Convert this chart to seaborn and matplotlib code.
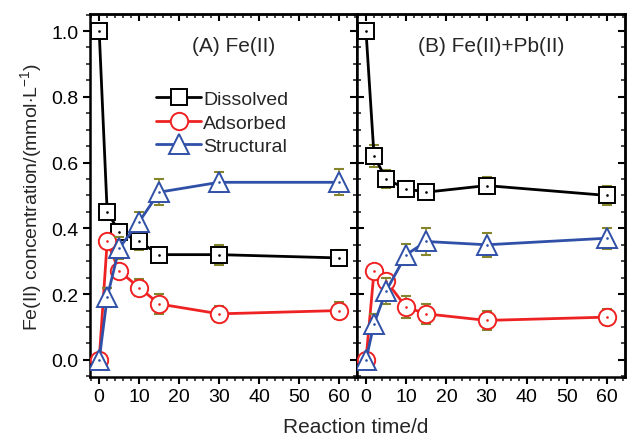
import numpy as np
import pandas as pd
import matplotlib
matplotlib.use("Agg")
import matplotlib.pyplot as plt
import seaborn as sns
from matplotlib.ticker import MultipleLocator, FormatStrFormatter

sns.set_theme(style="ticks")
plt.rcParams['font.family'] = ['Liberation Sans', 'DejaVu Sans']
plt.rcParams['mathtext.fontset'] = 'custom'
plt.rcParams['mathtext.rm'] = 'Liberation Sans'

time = [0, 2, 5, 10, 15, 30, 60]
series_names = ["Dissolved", "Adsorbed", "Structural"]

# Panel A: Fe(II)
a_dissolved = [1.00, 0.45, 0.39, 0.36, 0.32, 0.32, 0.31]
a_dissolved_err = [0.0, 0.025, 0.02, 0.025, 0.02, 0.03, 0.023]
a_adsorbed = [0.00, 0.36, 0.27, 0.22, 0.17, 0.14, 0.15]
a_adsorbed_err = [0.0, 0.0, 0.02, 0.025, 0.03, 0.024, 0.027]
a_structural = [0.00, 0.19, 0.34, 0.42, 0.51, 0.54, 0.54]
a_structural_err = [0.0, 0.03, 0.033, 0.03, 0.04, 0.03, 0.04]

# Panel B: Fe(II)+Pb(II)
b_dissolved = [1.00, 0.62, 0.55, 0.52, 0.51, 0.53, 0.50]
b_dissolved_err = [0.0, 0.034, 0.027, 0.024, 0.02, 0.027, 0.03]
b_adsorbed = [0.00, 0.27, 0.24, 0.16, 0.14, 0.12, 0.13]
b_adsorbed_err = [0.0, 0.01, 0.02, 0.034, 0.03, 0.03, 0.025]
b_structural = [0.00, 0.11, 0.21, 0.32, 0.36, 0.35, 0.37]
b_structural_err = [0.0, 0.028, 0.04, 0.031, 0.04, 0.037, 0.032]

panel_titles = ["(A) Fe(II)", "(B) Fe(II)+Pb(II)"]

colors = {"Dissolved": "#000000", "Adsorbed": "#EE2222", "Structural": "#3050A8"}
markers = {"Dissolved": "s", "Adsorbed": "o", "Structural": "^"}
msizes = {"Dissolved": 11, "Adsorbed": 12.5, "Structural": 14}
err_color = "#85852E"

panels = [
    {"Dissolved": (a_dissolved, a_dissolved_err),
     "Adsorbed": (a_adsorbed, a_adsorbed_err),
     "Structural": (a_structural, a_structural_err)},
    {"Dissolved": (b_dissolved, b_dissolved_err),
     "Adsorbed": (b_adsorbed, b_adsorbed_err),
     "Structural": (b_structural, b_structural_err)},
]

fig = plt.figure(figsize=(6.27, 4.39), dpi=100)
axA = fig.add_axes([0.1435, 0.139, 0.4255, 0.827])
axB = fig.add_axes([0.569, 0.139, 0.4275, 0.827], sharey=axA)
axes = [axA, axB]
title_x = [0.54, 0.5]


def style_secondary(sec, which):
    if which == "x":
        sec.xaxis.set_major_locator(MultipleLocator(10))
        sec.xaxis.set_minor_locator(MultipleLocator(2))
        sec.tick_params(axis="x", which="both", direction="in", labeltop=False)
    else:
        sec.yaxis.set_major_locator(MultipleLocator(0.2))
        sec.yaxis.set_minor_locator(MultipleLocator(0.05))
        sec.tick_params(axis="y", which="both", direction="in", labelright=False)
    sec.tick_params(which="major", width=1.5, length=5, colors="black")
    sec.tick_params(which="minor", width=1.2, length=3)
    for sp in sec.spines.values():
        sp.set_linewidth(1.8)


for i, (ax, pdata) in enumerate(zip(axes, panels)):
    for k, name in enumerate(series_names):
        vals, errs = pdata[name]
        df = pd.DataFrame({"time": time, "value": vals})
        ax.errorbar(time, vals, yerr=errs, fmt="none", ecolor=err_color,
                    elinewidth=1.2, capsize=3.5, capthick=1.5, zorder=2.5 + k)
        sns.lineplot(data=df, x="time", y="value", ax=ax, color=colors[name],
                     lw=2, marker=markers[name], markersize=msizes[name],
                     markerfacecolor="white", markeredgecolor=colors[name],
                     markeredgewidth=1.4, label=name if i == 0 else None,
                     zorder=3 + k, legend=False)
        ax.plot(time, vals, ls="none", marker=".", markersize=1.8,
                color=colors[name], zorder=3 + k + 0.6)
    ax.set_xlim(-2.3, 64.4)
    ax.set_ylim(-0.052, 1.052)
    ax.xaxis.set_major_locator(MultipleLocator(10))
    ax.xaxis.set_minor_locator(MultipleLocator(2))
    ax.yaxis.set_major_locator(MultipleLocator(0.2))
    ax.yaxis.set_minor_locator(MultipleLocator(0.05))
    ax.yaxis.set_major_formatter(FormatStrFormatter("%.1f"))
    ax.set_xlabel("")
    ax.set_ylabel("")
    for sp in ax.spines.values():
        sp.set_linewidth(1.8)
        sp.set_color("black")
    ax.tick_params(axis="both", which="major", labelsize=14, width=1.5,
                   length=5, colors="black")
    ax.tick_params(axis="both", which="minor", width=1.2, length=3)
    ax.tick_params(axis="x", which="both", direction="out", pad=3,
                   top=False, bottom=True)
    ax.text(title_x[i], 0.912, panel_titles[i], transform=ax.transAxes,
            ha="center", va="center", fontsize=15)
    style_secondary(ax.secondary_xaxis("top"), "x")
    style_secondary(ax.secondary_yaxis("right"), "y")

axA.tick_params(axis="y", which="both", direction="out", left=True, right=False)
axB.tick_params(axis="y", which="both", direction="in", left=True, right=False,
                labelleft=False)

leg = axA.legend(loc="upper left", bbox_to_anchor=(0.22, 0.81), frameon=False,
                 fontsize=14, handlelength=2.3, handletextpad=0.1,
                 labelspacing=0.3, borderaxespad=0)

axA.set_ylabel(r"Fe(II) concentration/(mmol$\cdot$L$^{-1}$)", fontsize=14, labelpad=4)
fig.text(0.568, 0.027, "Reaction time/d", ha="center", va="center", fontsize=15)

fig.savefig("out.png", dpi=100)
